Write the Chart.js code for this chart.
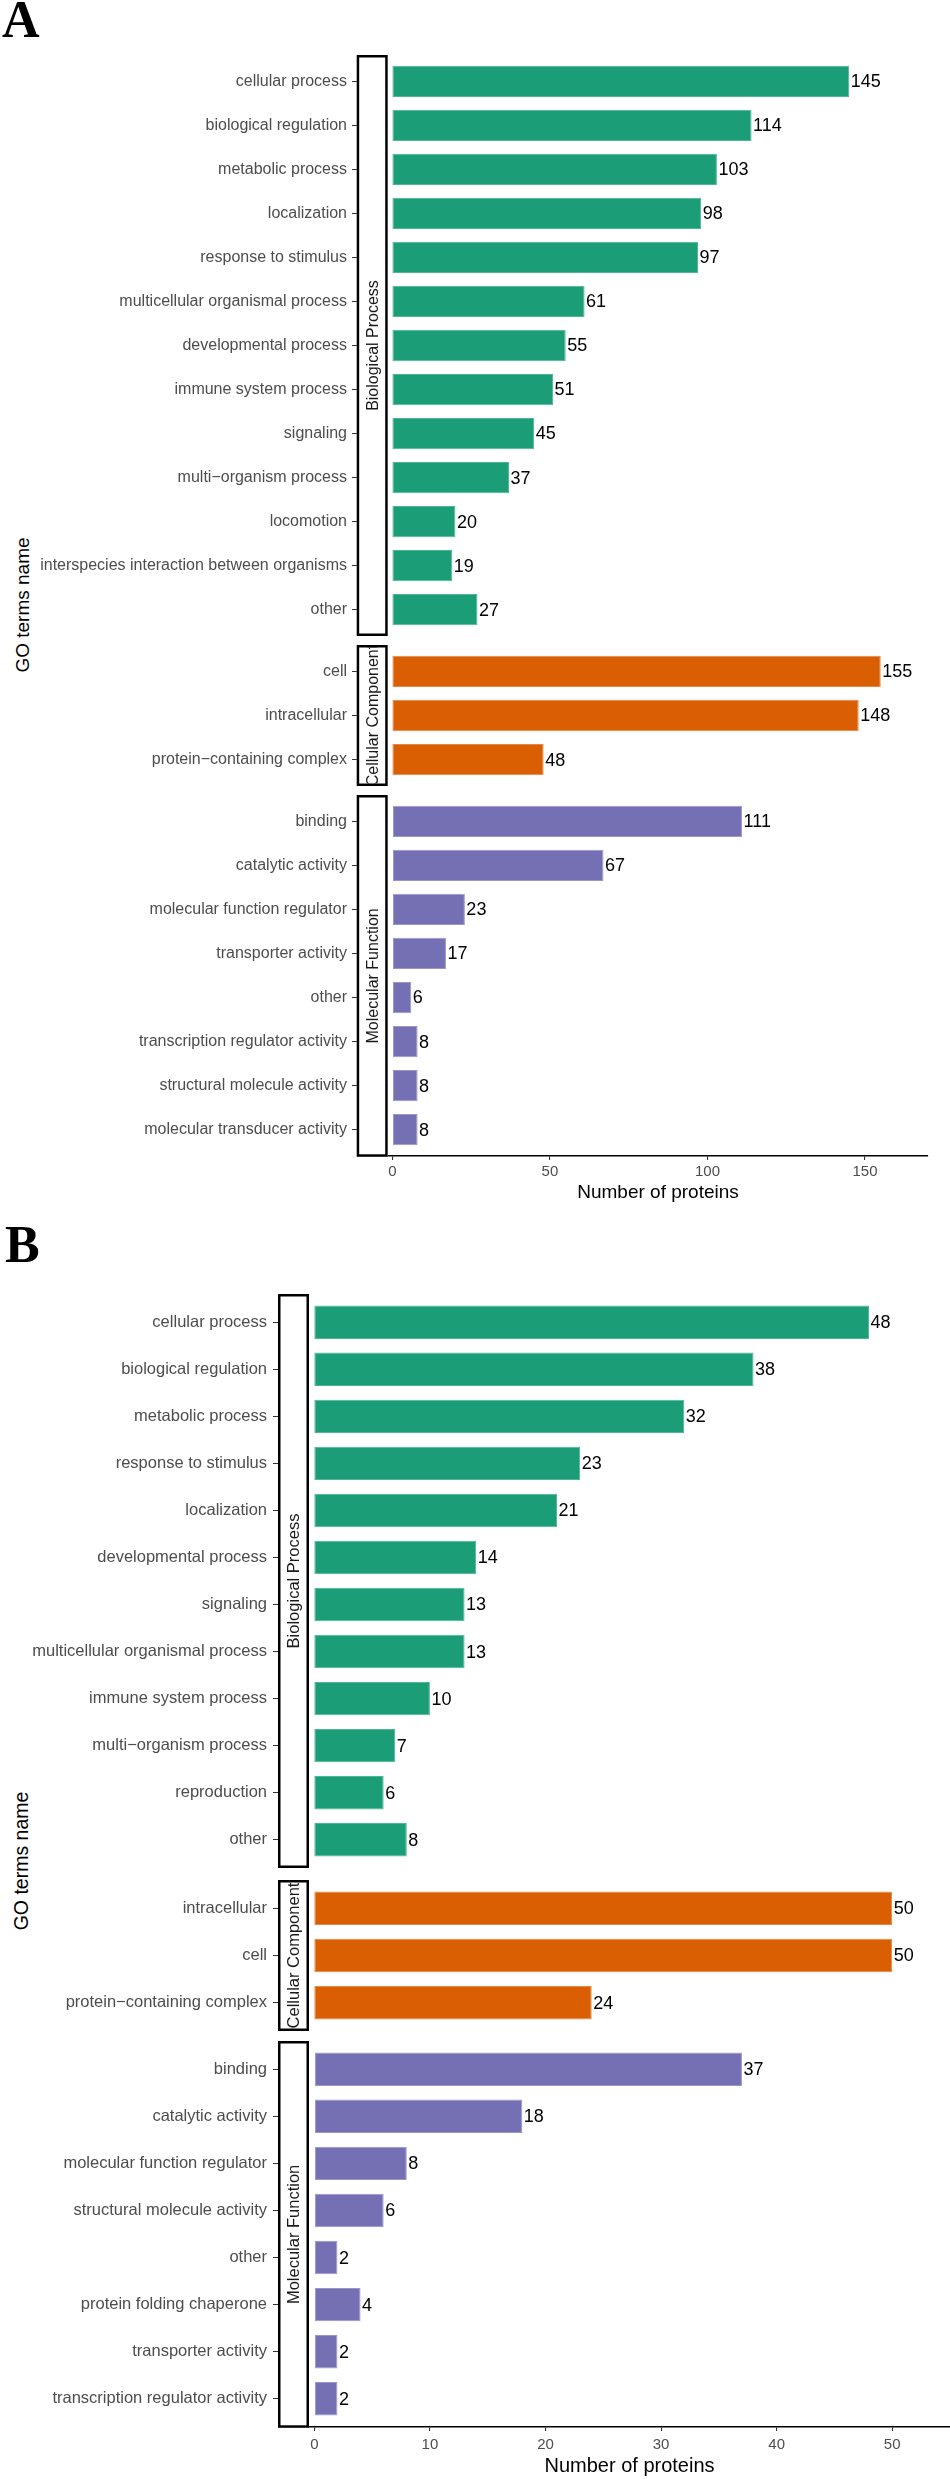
<!DOCTYPE html>
<html lang="en">
<head>
<meta charset="UTF-8">
<title>GO terms name - Number of proteins</title>
<script src="https://cdn.jsdelivr.net/npm/chart.js@4"></script>
<style>
    body {
        margin: 0;
        background: #fff;
        font-family: "Liberation Sans", Arial, sans-serif;
    }
    .page {
        position: relative;
        width: 950px;
        height: 2479px;
        overflow: hidden;
    }
    .letter {
        position: absolute;
        font-family: "Liberation Serif", "Times New Roman", serif;
        font-weight: bold;
        font-size: 52px;
        line-height: 52px;
        color: #000;
    }
    .ytitle {
        position: absolute;
        color: #000;
        white-space: nowrap;
        line-height: 1;
        transform: translate(-50%, -50%) rotate(-90deg);
    }
    .facet {
        position: absolute;
        left: 0;
        width: 950px;
    }
</style>
</head>
<body>
<div class="page" id="page">
    <div class="letter" style="left:2px; top:-6px;">A</div>
    <div class="letter" style="left:5px; top:1219px;">B</div>
    <div class="ytitle" style="left:22px; top:605px; font-size:19px;">GO terms name</div>
    <div class="ytitle" style="left:22px; top:1861px; font-size:19.5px;">GO terms name</div>
</div>

<script>
    // ---- data ----
    const groups = ['Biological Process', 'Cellular Component', 'Molecular Function'];

    // panel A
    const aBpTerms = ['cellular process', 'biological regulation', 'metabolic process', 'localization',
        'response to stimulus', 'multicellular organismal process', 'developmental process',
        'immune system process', 'signaling', 'multi\u2212organism process', 'locomotion',
        'interspecies interaction between organisms', 'other'];
    const aBpCounts = [145, 114, 103, 98, 97, 61, 55, 51, 45, 37, 20, 19, 27];
    const aCcTerms = ['cell', 'intracellular', 'protein\u2212containing complex'];
    const aCcCounts = [155, 148, 48];
    const aMfTerms = ['binding', 'catalytic activity', 'molecular function regulator', 'transporter activity',
        'other', 'transcription regulator activity', 'structural molecule activity', 'molecular transducer activity'];
    const aMfCounts = [111, 67, 23, 17, 6, 8, 8, 8];
    const aTicks = [0, 50, 100, 150];

    // panel B
    const bBpTerms = ['cellular process', 'biological regulation', 'metabolic process', 'response to stimulus',
        'localization', 'developmental process', 'signaling', 'multicellular organismal process',
        'immune system process', 'multi\u2212organism process', 'reproduction', 'other'];
    const bBpCounts = [48, 38, 32, 23, 21, 14, 13, 13, 10, 7, 6, 8];
    const bCcTerms = ['intracellular', 'cell', 'protein\u2212containing complex'];
    const bCcCounts = [50, 50, 24];
    const bMfTerms = ['binding', 'catalytic activity', 'molecular function regulator', 'structural molecule activity',
        'other', 'protein folding chaperone', 'transporter activity', 'transcription regulator activity'];
    const bMfCounts = [37, 18, 8, 6, 2, 4, 2, 2];
    const bTicks = [0, 10, 20, 30, 40, 50];

    // ---- look ----
    const fills = ['#1b9e77', '#d95f02', '#7570b3'];
    const edges = ['#4fb692', '#e5864a', '#9a96cb'];
    const FONT = '"Liberation Sans", Arial, sans-serif';
    Chart.defaults.font.family = FONT;

    // box + rotated label on the left of each facet
    const stripPlugin = {
        id: 'strip',
        afterDraw(chart, args, o) {
            const ctx = chart.ctx;
            const top = chart.chartArea.top;
            const bottom = chart.chartArea.bottom + o.extra;
            const lw = 2.5;
            ctx.save();
            ctx.fillStyle = '#fff';
            ctx.fillRect(o.left, top, o.right - o.left, bottom - top);
            ctx.strokeStyle = '#000';
            ctx.lineWidth = lw;
            ctx.strokeRect(o.left + lw / 2, top + lw / 2, o.right - o.left - lw, bottom - top - lw);
            ctx.beginPath();
            ctx.rect(o.left + lw, top + lw, o.right - o.left - 2 * lw, bottom - top - 2 * lw);
            ctx.clip();
            ctx.translate((o.left + o.right) / 2, (top + bottom) / 2);
            ctx.rotate(-Math.PI / 2);
            ctx.fillStyle = '#1a1a1a';
            ctx.font = o.size + 'px ' + FONT;
            ctx.textAlign = 'center';
            ctx.textBaseline = 'middle';
            ctx.fillText(o.text, 0, 1);
            ctx.restore();
        }
    };

    // count printed at the end of every bar
    const valuePlugin = {
        id: 'values',
        afterDatasetsDraw(chart, args, o) {
            const ctx = chart.ctx;
            const meta = chart.getDatasetMeta(0);
            const pts = chart.data.datasets[0].data;
            ctx.save();
            ctx.fillStyle = '#000';
            ctx.font = o.size + 'px ' + FONT;
            ctx.textAlign = 'left';
            ctx.textBaseline = 'middle';
            meta.data.forEach((bar, i) => {
                ctx.fillText(String(pts[i].x), bar.x + 1.5, bar.y + 1);
            });
            ctx.restore();
        }
    };

    const page = document.getElementById('page');
    const onlyIn = (list, col) => c => (c.tick && list.includes(c.tick.value)) ? col : 'rgba(0,0,0,0)';

    function facet(fig, f, gi, isBottom) {
        const wrap = document.createElement('div');
        wrap.className = 'facet';
        wrap.style.top = f.top + 'px';
        wrap.style.height = (f.h + (isBottom ? fig.axisH : 0)) + 'px';
        const cv = document.createElement('canvas');
        wrap.appendChild(cv);
        page.appendChild(wrap);

        const n = f.terms.length;
        const idx = f.terms.map((t, i) => i);
        new Chart(cv, {
            type: 'bar',
            data: {
                labels: f.terms,
                datasets: [{
                    data: f.counts.map((v, i) => ({ x: v, y: i })),
                    backgroundColor: fills[gi],
                    borderColor: edges[gi],
                    borderWidth: 1,
                    borderSkipped: false,
                    barPercentage: 0.71,
                    categoryPercentage: 1
                }]
            },
            options: {
                indexAxis: 'y',
                responsive: true,
                maintainAspectRatio: false,
                animation: false,
                layout: { padding: { left: 0, right: fig.padRight, top: 0, bottom: 0 } },
                plugins: {
                    legend: { display: false },
                    tooltip: { enabled: false },
                    strip: { left: fig.stripL, right: fig.stripR, text: groups[gi], size: fig.stripSize, extra: isBottom ? 0.8 : 0 },
                    values: { size: fig.valueSize }
                },
                scales: {
                    y: {
                        type: 'linear',
                        bounds: 'data',
                        offset: false,
                        reverse: true,
                        min: -0.6,
                        max: n - 0.4,
                        afterBuildTicks: s => { s.ticks = idx.map(i => ({ value: i })); },
                        afterFit: s => {
                            s.width = fig.panelLeft;
                            s.paddingTop = 0;
                            s.paddingBottom = 0;
                        },
                        ticks: {
                            autoSkip: false,
                            stepSize: 1,
                            maxTicksLimit: 100,
                            includeBounds: false,
                            callback: v => (f.terms[v] !== undefined ? f.terms[v] : ''),
                            color: '#4d4d4d',
                            font: { size: fig.labelSize },
                            padding: fig.labPad
                        },
                        grid: { offset: false, drawOnChartArea: false, tickLength: fig.tickLen, color: onlyIn(idx, '#333'), lineWidth: 1.1 },
                        border: { display: false }
                    },
                    x: {
                        type: 'linear',
                        bounds: 'data',
                        offset: false,
                        display: isBottom,
                        min: fig.xMin,
                        max: fig.xMax,
                        afterBuildTicks: s => { s.ticks = fig.xTicks.map(v => ({ value: v })); },
                        afterFit: s => {
                            if (isBottom) s.height = fig.axisH;
                            s.paddingLeft = 0;
                            s.paddingRight = 0;
                        },
                        ticks: {
                            includeBounds: false,
                            color: '#4d4d4d',
                            font: { size: fig.tickSize },
                            padding: fig.tickPad,
                            maxRotation: 0,
                            callback: v => (fig.xTicks.includes(v) ? String(v) : '')
                        },
                        grid: { drawOnChartArea: false, tickLength: 4, color: onlyIn(fig.xTicks, '#333'), lineWidth: 1.1 },
                        border: { color: '#000', width: 1.6 },
                        title: {
                            display: true,
                            text: 'Number of proteins',
                            color: '#000',
                            font: { size: fig.titleSize },
                            padding: { top: 0, bottom: fig.titlePad }
                        }
                    }
                }
            },
            plugins: [valuePlugin, stripPlugin]
        });
    }

    const figA = {
        panelLeft: 388, padRight: 22, tickLen: 36, labPad: 5,
        stripL: 356.7, stripR: 387.7,
        labelSize: 16, stripSize: 16, valueSize: 18,
        xMin: -1.4, xMax: 170, xTicks: aTicks,
        tickSize: 15, tickPad: 3, titleSize: 19, axisH: 50, titlePad: 1.6,
        facets: [
            { top: 55, h: 581, terms: aBpTerms, counts: aBpCounts },
            { top: 645, h: 141, terms: aCcTerms, counts: aCcCounts },
            { top: 795, h: 361, terms: aMfTerms, counts: aMfCounts }
        ]
    };

    const figB = {
        panelLeft: 309, padRight: 0, tickLen: 36, labPad: 6,
        stripL: 278, stripR: 309,
        labelSize: 16.5, stripSize: 16.5, valueSize: 18,
        xMin: -0.46, xMax: 55, xTicks: bTicks,
        tickSize: 15, tickPad: 4.5, titleSize: 20, axisH: 52, titlePad: 1,
        facets: [
            { top: 1294, h: 574, terms: bBpTerms, counts: bBpCounts },
            { top: 1880, h: 151, terms: bCcTerms, counts: bCcCounts },
            { top: 2041, h: 386, terms: bMfTerms, counts: bMfCounts }
        ]
    };

    [figA, figB].forEach(fig => {
        fig.facets.forEach((f, gi) => facet(fig, f, gi, gi === fig.facets.length - 1));
    });
</script>
</body>
</html>
